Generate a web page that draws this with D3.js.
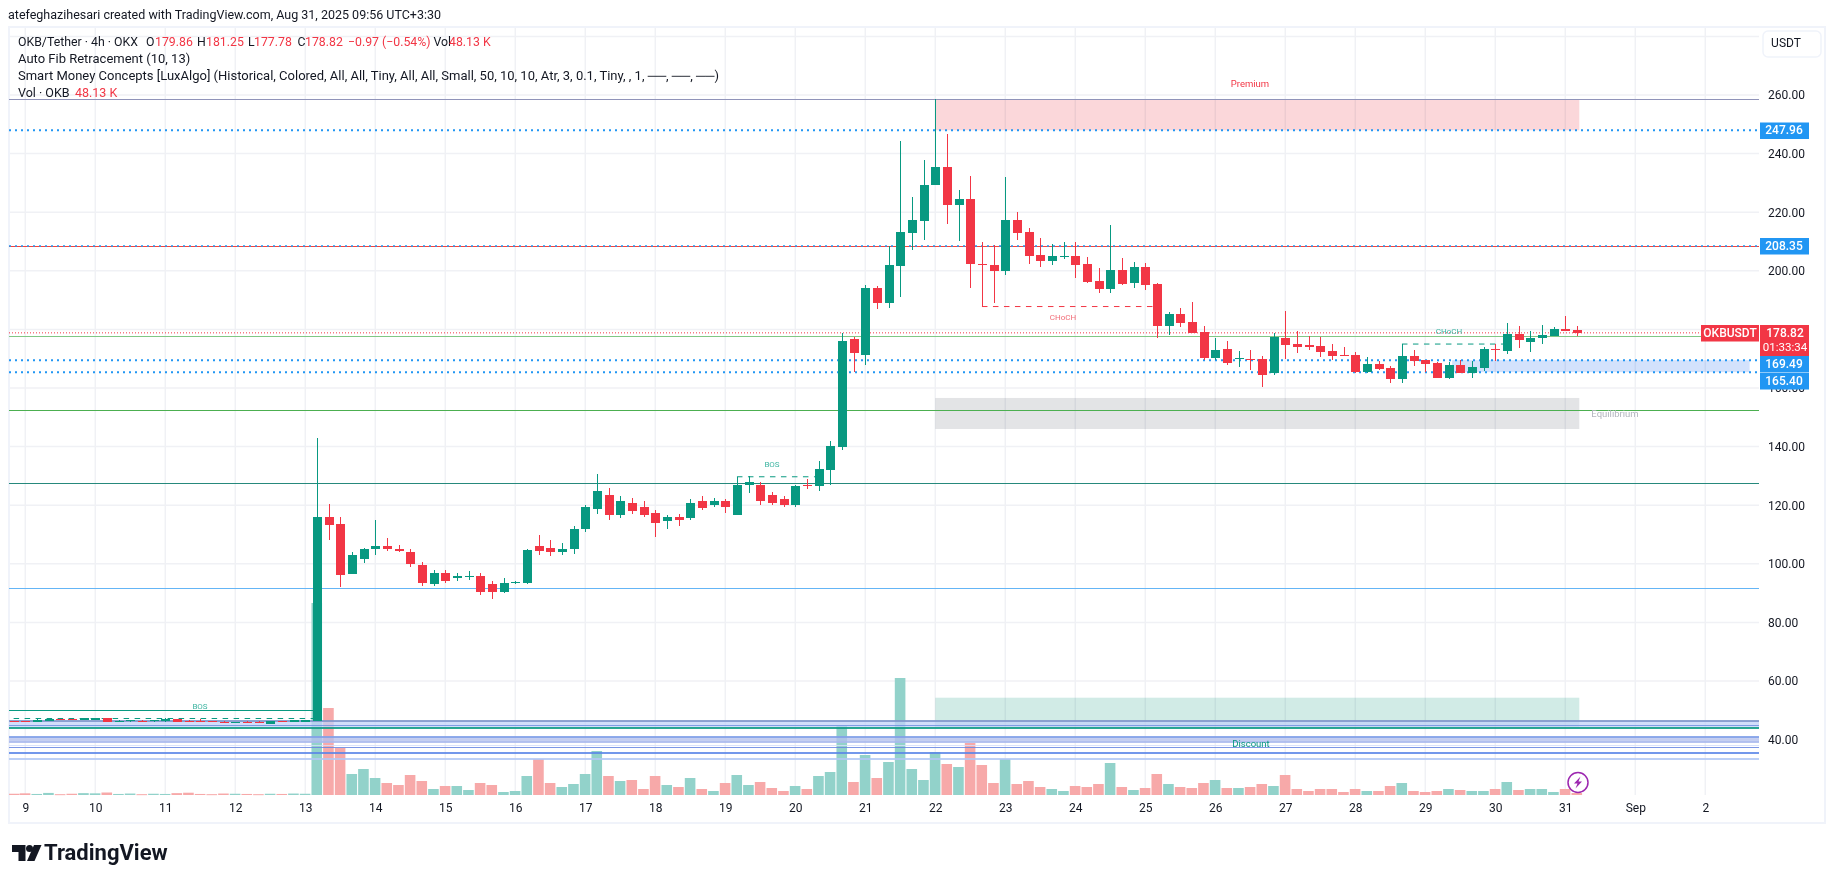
<!DOCTYPE html>
<html>
<head>
<meta charset="utf-8">
<title>OKB/Tether 4h</title>
<script src="https://cdn.jsdelivr.net/npm/d3@7.9.0/dist/d3.min.js"></script>
<style>
  html, body { margin: 0; padding: 0; background: #fff; }
  svg { display: block; }
  text { font-family: Roboto, "Noto Sans", sans-serif; fill: #131722; }
</style>
</head>
<body>
<svg id="chart" width="1835" height="883"></svg>
<script>
// ========== Data ==========

// Bar numbers count 4h candles from Aug 9 00:00, the first visible one is -1
const firstBar = -1;

const opens = [46.5,46.5,46.1,46.2,46.9,46.9,46.8,46.8,47.3,46.2,46.2,46.3,46.2,46.2,47.0,46.3,46.3,46.3,46.1,45.8,46.1,46.1,45.4,46.3,46.1,46.1,
  46.4,116,113.6,96.5,101.5,105,106,105,104,99.5,93,97,95,95.5,96,93,90.5,93.4,93.5,106,105.5,104,105,112,118.7,123.5,116.7,120.7,119.5,117.5,114.5,116,115.5,121.5,120,121.5,116.7,127,127,123.5,122,120,127,126.5,132,140,176.6,171.4,
  194,189,201.6,212.9,217,229.3,235.4,222.5,224.5,202.3,202,200,217.3,213.3,205.4,203.3,204.8,205,202.3,196.5,193.8,200.3,195.8,201.3,195.5,181.2,185.2,182.5,179,170.2,173.3,169.8,170,170,165,177,175,174.7,174.3,172.6,171.2,171.3,
  165.5,168.2,166.8,163,170.9,169.6,168.5,163.4,167.8,165.1,166.8,173.3,172.6,178.4,175.8,177,177.7,180.1,179.86];
const closes = [46.4,46.4,46.8,47.0,46.8,46.8,47.3,47.3,46.1,46.4,46.7,46.2,46.6,47.0,46.1,46.2,46.2,46.2,45.7,46.1,45.8,45.8,46.2,46.2,46.6,46.6,
  116,113.2,96.2,103,105,106,105,104.5,100,93.5,97,94,96,96,90.5,90.5,93.5,93.8,104.7,104.5,104,105,112,119.5,124.7,116.7,121.5,118,116.7,114,116,115,120.7,119,121.5,119.5,127,128,121.5,120.7,120,126.7,126.5,132.3,140.2,176,171.8,194,
  189,202,213.3,217.3,229.3,235.4,222.5,224.5,202.3,202,200,217.3,212.9,205,203.3,205,205.2,202,196.2,193.8,200.3,195.5,201.3,195.2,181.2,185.2,182.2,178.8,170.2,173,168.5,170.2,169.8,164.6,177.4,174.7,174,174,172.3,171,171,165.6,
  168.2,166.5,163,170.9,169.2,168.2,163.4,167.8,165.1,167.2,173.3,173,178.4,176.4,177,178,180,179.5,178.82];
const highs = [46.5,46.5,46.9,47.3,47,47,47.4,47.5,47.4,46.6,46.7,46.7,46.6,47.3,47.1,46.7,47,46.4,46.2,46.1,46.2,46.2,46.2,46.3,46.7,46.7,
  142.9,120.4,116,104,105.5,115,108.8,106.5,105,100.5,98,98,97,97.5,97,94,95,94,105,110,108,107,113,120,130.6,126,123,122.5,121.5,118.5,116.5,117,122,123,122.5,122,129.7,130,128,124.5,123,127,129,135,142,178.7,177.5,195,
  194.8,208.5,244.3,225.2,237.8,258.5,246.7,227.6,232.4,210,208.8,232,220,214.6,211.2,209.1,209.8,209.8,204.7,201,215.6,204.4,203,202.7,195.8,186,187.3,189.4,181,177,176,172.6,173,171,178.8,186.3,179.4,177.7,177.4,175,174,172.3,
  170.6,169.2,167.5,175,173,169.6,169,168.9,169.6,169.2,174,175,182.2,181.2,179.4,181.5,180.8,184.6,181.25];
const lows = [46.3,46.3,46.1,46.2,46.8,46.8,46.8,46.7,46.1,46,46.1,46.2,46.1,46.1,46.1,46.1,46.1,46.1,45.7,45.7,45.8,45.8,45.4,46.1,46,46,
  46.2,108,92,96.5,100.3,103,104.5,104,99,92.5,92.5,93.5,94,94.5,89.5,88,90,93,93,103,102.5,103,103.5,111,117,115,115.5,117,116,109,112,113,115,118.5,119.5,117.5,116.5,124,120,120,119.5,119.5,125.5,125,127,139,165.4,168,
  187,187.3,191,207,210.5,229.3,216,210.2,194,187.7,189,198.6,210.5,202.3,201.3,202,204,197.5,195.8,192.4,192.4,195.2,194,193.4,177,178,180.8,178.8,169.6,169.6,168,167,166,160.5,164.5,170,172,173,170.6,169.6,170.8,165.2,
  165.2,166.2,161.7,161.7,167.5,165.5,163.4,163,165.1,163.4,165.8,169.2,171.6,173.6,172.3,175,177.7,179.5,177.78];
// Volumes in thousands, same order as the candles
const volumes = [30,40,25,50,20,30,45,40,60,25,35,20,30,25,45,55,25,20,35,30,25,20,30,25,35,30,
  4608,2088,1128,504,624,408,288,240,480,336,144,216,216,120,288,240,72,96,456,864,288,192,264,504,1056,456,336,360,144,456,240,192,408,144,96,288,480,240,312,168,96,216,144,456,552,1656,312,960,
  408,792,2808,624,360,1032,744,672,1248,720,288,864,264,336,192,144,96,216,192,264,768,192,120,168,504,264,192,168,288,360,168,168,192,264,216,480,144,96,144,144,72,144,
  96,96,216,288,96,72,96,144,120,96,96,144,312,120,144,144,72,144,48.13];

// 180.00 sits under the last price tag, so it only gets a grid line
const priceTicks = [260,240,220,200,160,140,120,100,80,60,40];
const gridPrices = [280,180].concat(priceTicks);
const dayLabels = ['9','10','11','12','13','14','15','16','17','18','19','20','21','22','23','24','25','26','27','28','29','30','31','Sep','2'];

// Support and resistance levels drawn across the whole chart
const dottedBlueLevels = [247.96, 169.49, 165.40];
const lastPrice = 178.82;
const solidLevels = [
  { price: 258.5, color: '#9093b9', width: 1 },
  { price: 208.2, color: '#f4433c', width: 1 },
  { price: 177.6, color: '#81c784', width: 1 },
  { price: 152.4, color: '#4caf50', width: 1 },
  { price: 127.5, color: '#26897c', width: 1 },
  { price: 91.6, color: '#64b5f6', width: 1 },
  { price: 46.4, color: '#7c93c9', width: 2 },
  { price: 44.8, color: '#7090e0', width: 1 },
  { price: 43.9, color: '#089981', width: 2 },
  { price: 41.0, color: '#7f9fe8', width: 2 },
  { price: 39.3, color: '#a9b8ec', width: 2 },
  { price: 37.9, color: '#d5defa', width: 1 },
  { price: 37.2, color: '#6685e0', width: 1 },
  { price: 35.5, color: '#5b86e8', width: 2 },
  { price: 33.4, color: '#b2c8f5', width: 2 }
];
const fibBands = [[46.4, 43.9], [41.0, 39.3]];

// Zones: bar range and price range
const zones = [
  { name: 'Premium', from: 78, to: 133.2, top: 258.5, bottom: 247.96, fill: '#fbd7da' },
  { name: 'Equilibrium', from: 78, to: 133.2, top: 156.6, bottom: 146, fill: '#e3e4e6' },
  { name: 'Discount', from: 78, to: 133.2, top: 54.3, bottom: 43.9, fill: '#d1ebe6' },
  { name: 'Order block', from: 122.3, to: 147.8, top: 169.49, bottom: 165.40, fill: '#d3e2fc' }
];

// Structure breaks: dashed level between two bars
const structureBreaks = [
  { label: 'BOS', from: -1, to: 25, price: 47.2, color: '#089981', labelColor: '#3fb5a2' },
  { label: 'BOS', from: 61, to: 67.7, price: 129.7, color: '#089981', labelColor: '#3fb5a2' },
  { label: 'CHoCH', from: 82, to: 97, price: 187.8, color: '#f23645', labelColor: '#f26d78' },
  { label: 'CHoCH', from: 118, to: 127, price: 175, color: '#089981', labelColor: '#3fb5a2' }
];

// ========== Layout ==========

const svg = d3.select('#chart');
const plotLeft = 9, plotRight = 1759, plotTop = 27, plotBottom = 795;
const upColor = '#089981', downColor = '#f23645';

const y = d3.scaleLinear().domain([260, 40]).range([95, 739.6]);
const x = d3.scaleLinear().domain([0, 132]).range([25.3, 1565.3]);
const volumeY = d3.scaleLinear().domain([0, 4608]).range([plotBottom, 603]);

const bars = d3.range(opens.length).map((i) => ({
  bar: firstBar + i,
  open: opens[i], high: highs[i], low: lows[i], close: closes[i], volume: volumes[i]
}));

function hLine(parent, price, x1, x2) {
  return parent.append('line')
    .attr('x1', x1).attr('x2', x2)
    .attr('y1', y(price)).attr('y2', y(price));
}

// ========== Grid and frame ==========

const grid = svg.append('g').attr('stroke', '#f0f1f5').attr('stroke-width', 1.5);
gridPrices.forEach((p) => hLine(grid, p, plotLeft, plotRight));
dayLabels.forEach((d, i) => {
  grid.append('line')
    .attr('x1', x(i * 6)).attr('x2', x(i * 6))
    .attr('y1', plotTop).attr('y2', plotBottom);
});

svg.append('rect')
  .attr('x', 9).attr('y', 27).attr('width', 1816).attr('height', 796)
  .attr('fill', 'none').attr('stroke', '#f0f3fa').attr('stroke-width', 2);

// ========== Zones and volume ==========

svg.append('g').selectAll('rect').data(zones).join('rect')
  .attr('x', (d) => x(d.from))
  .attr('width', (d) => x(d.to) - x(d.from))
  .attr('y', (d) => y(d.top))
  .attr('height', (d) => y(d.bottom) - y(d.top))
  .attr('fill', (d) => d.fill)
  .style('mix-blend-mode', 'multiply');

svg.append('g').selectAll('rect').data(bars).join('rect')
  .attr('x', (d) => Math.max(x(d.bar) - 5.5, plotLeft))
  .attr('width', 10.6)
  .attr('y', (d) => volumeY(d.volume))
  .attr('height', (d) => Math.max(plotBottom - volumeY(d.volume), 1))
  .attr('fill', (d) => (d.close >= d.open ? '#92d2ca' : '#f7a9a9'));

// ========== Levels ==========

const bands = svg.append('g').attr('opacity', 0.75);
fibBands.forEach(([top, bottom], i) => {
  bands.append('rect')
    .attr('x', plotLeft).attr('width', plotRight - plotLeft)
    .attr('y', y(top)).attr('height', y(bottom) - y(top))
    .attr('fill', i === 0 ? '#c3d3fa' : '#b4c0ee');
});

const levels = svg.append('g').attr('shape-rendering', 'crispEdges');
solidLevels.forEach((l) => {
  hLine(levels, l.price, plotLeft, plotRight)
    .attr('stroke', l.color)
    .attr('stroke-width', l.width)
    .attr('stroke-opacity', l.price < 50 ? 0.85 : 1);
});

// BOS line above the first volume spike
hLine(levels, 50.1, plotLeft, x(25) - 4).attr('stroke', upColor).attr('stroke-width', 1);

dottedBlueLevels.forEach((p) => {
  hLine(svg, p, plotLeft, plotRight)
    .attr('stroke', '#2196f3').attr('stroke-width', 2)
    .attr('stroke-dasharray', '2 4');
});
hLine(svg, 208.5, plotLeft, plotRight)
  .attr('stroke', '#2196f3').attr('stroke-width', 1.5).attr('stroke-dasharray', '2 4');
hLine(svg, lastPrice, plotLeft, plotRight)
  .attr('stroke', downColor).attr('stroke-width', 1).attr('stroke-dasharray', '1 2');

// ========== Structure breaks ==========

const structure = svg.append('g');
structure.selectAll('line').data(structureBreaks).join('line')
  .attr('x1', (d) => Math.max(x(d.from), 13))
  .attr('x2', (d) => x(d.to))
  .attr('y1', (d) => y(d.price))
  .attr('y2', (d) => y(d.price))
  .attr('stroke', (d) => d.color)
  .attr('stroke-dasharray', '5.5 5.5');

structure.selectAll('text').data(structureBreaks).join('text')
  .text((d) => d.label)
  .attr('x', (d) => [200, 772, 1063, 1449][structureBreaks.indexOf(d)])
  .attr('y', (d) => [707, 464.5, 318, 332][structureBreaks.indexOf(d)])
  .attr('text-anchor', 'middle')
  .attr('dominant-baseline', 'middle')
  .style('font-size', '8px')
  .style('fill', (d) => d.labelColor);

// ========== Candles ==========

const candles = svg.append('g').attr('shape-rendering', 'crispEdges');
const barColor = (d) => (d.close >= d.open ? upColor : downColor);

candles.selectAll('line').data(bars).join('line')
  .attr('x1', (d) => Math.round(x(d.bar)) + 0.5)
  .attr('x2', (d) => Math.round(x(d.bar)) + 0.5)
  .attr('y1', (d) => y(d.high))
  .attr('y2', (d) => y(d.low))
  .attr('stroke', barColor);

candles.selectAll('rect').data(bars).join('rect')
  .attr('x', (d) => Math.max(Math.round(x(d.bar)) - 4, plotLeft))
  .attr('width', 9)
  .attr('y', (d) => y(Math.max(d.open, d.close)))
  .attr('height', (d) => Math.max(Math.abs(y(d.open) - y(d.close)), 1))
  .attr('fill', barColor);

// ========== Zone labels ==========

const zoneLabels = svg.append('g')
  .attr('text-anchor', 'middle')
  .attr('dominant-baseline', 'middle')
  .style('font-size', '9.5px');
zoneLabels.append('text').text('Premium').attr('x', 1250).attr('y', 84).style('fill', '#f23645');
zoneLabels.append('text').text('Equilibrium').attr('x', 1615).attr('y', 414).style('fill', '#b2b5be');
zoneLabels.append('text').text('Discount').attr('x', 1251).attr('y', 744).style('fill', '#089981');

// ========== Axes ==========

const yAxis = d3.axisRight(y)
  .tickValues(priceTicks)
  .tickSize(0)
  .tickPadding(9)
  .tickFormat(d3.format('.2f'));
const yAxisG = svg.append('g').attr('transform', `translate(${plotRight},0)`).call(yAxis);

const xAxis = d3.axisBottom(x)
  .tickValues(dayLabels.map((d, i) => i * 6))
  .tickSize(0)
  .tickPadding(8)
  .tickFormat((d) => dayLabels[d / 6]);
const xAxisG = svg.append('g').attr('transform', `translate(0,${plotBottom})`).call(xAxis);

[yAxisG, xAxisG].forEach((g) => {
  g.select('.domain').remove();
  g.selectAll('text').style('font-size', '12px').style('font-family', 'Roboto, sans-serif').style('fill', '#131722');
});

// USDT button
svg.append('rect')
  .attr('x', 1763).attr('y', 31).attr('width', 58).attr('height', 26).attr('rx', 5)
  .attr('fill', '#fff').attr('stroke', '#f0f3fa').attr('stroke-width', 1.5);
svg.append('text').text('USDT')
  .attr('x', 1786).attr('y', 44)
  .attr('text-anchor', 'middle').attr('dominant-baseline', 'middle')
  .style('font-size', '12px');

// ========== Price tags ==========

function priceTag(value, boxTop, color) {
  svg.append('rect')
    .attr('x', plotRight + 1).attr('y', boxTop).attr('width', 49).attr('height', 16.5).attr('fill', color);
  svg.append('text').text(value.toFixed(2))
    .attr('x', plotRight + 25).attr('y', boxTop + 8.5)
    .attr('text-anchor', 'middle').attr('dominant-baseline', 'middle')
    .style('font-size', '12px').style('font-weight', 500).style('fill', '#fff');
}

priceTag(247.96, 122.5, '#2196f3');
priceTag(208.35, 238, '#2196f3');
priceTag(169.49, 356, '#2196f3');
priceTag(165.40, 373, '#2196f3');

// Last price tag with symbol and countdown
svg.append('rect').attr('x', 1701).attr('y', 325).attr('width', 58).attr('height', 16.5).attr('fill', downColor);
svg.append('rect').attr('x', 1760).attr('y', 325).attr('width', 49).attr('height', 31).attr('fill', downColor);
const lastTag = svg.append('g')
  .attr('text-anchor', 'middle').attr('dominant-baseline', 'middle')
  .style('font-size', '12px');
lastTag.append('text').text('OKBUSDT').attr('x', 1730).attr('y', 333.5).style('fill', '#fff').style('font-weight', 500);
lastTag.append('text').text(lastPrice.toFixed(2)).attr('x', 1785).attr('y', 333.5).style('fill', '#fff').style('font-weight', 500);
lastTag.append('text').text('01:33:34').attr('x', 1785).attr('y', 348).style('font-size', '11.5px').style('fill', '#fff');

// ========== Legend ==========

const legend = svg.append('g').style('font-size', '13px');
svg.append('text').text('atefeghazihesari created with TradingView.com, Aug 31, 2025 09:56 UTC+3:30')
  .attr('x', 8).attr('y', 19).style('font-size', '12.5px');

// Header row pieces sit at their own x so the gaps match
const ohlc = legend.append('text').attr('y', 46).style('font-size', '12.3px');
const ohlcParts = [
  ['OKB/Tether · 4h · OKX', '#131722', 18], ['O', '#131722', 146], ['179.86', downColor, 155],
  ['H', '#131722', 197], ['181.25', downColor, 206], ['L', '#131722', 248], ['177.78', downColor, 254],
  ['C', '#131722', 297.5], ['178.82', downColor, 305], ['−0.97 (−0.54%)', downColor, 348],
  ['Vol', '#131722', 433.5], ['48.13 K', downColor, 449]
];
ohlcParts.forEach(([t, c, px]) => ohlc.append('tspan').text(t).attr('x', px).style('fill', c));

legend.append('text').text('Auto Fib Retracement (10, 13)').attr('x', 18).attr('y', 63);
legend.append('text')
  .text('Smart Money Concepts [LuxAlgo] (Historical, Colored, All, All, Tiny, All, All, Small, 50, 10, 10, Atr, 3, 0.1, Tiny, , 1, ──, ──, ──)')
  .attr('x', 18).attr('y', 80);
const volLine = legend.append('text').attr('y', 97).style('font-size', '12.5px');
volLine.append('tspan').text('Vol · OKB').attr('x', 18);
volLine.append('tspan').text('48.13 K').attr('x', 75).style('fill', downColor);

// ========== Lightning marker and logo ==========

const bolt = svg.append('g').attr('transform', 'translate(1578,782.5)');
bolt.append('circle').attr('r', 10).attr('fill', '#fff').attr('stroke', '#9c27b0').attr('stroke-width', 1.5);
bolt.append('path').attr('d', 'M2.5,-6 L-4,1 L-0.5,1 L-2.5,6 L4,-1 L0.5,-1 Z').attr('fill', '#9c27b0');

svg.append('path')
  .attr('d', 'M12,845 H25.5 V861 H18.5 V852 H12 Z M34,845 H41.5 L34.5,861 H27 Z')
  .attr('fill', '#131722');
svg.append('circle').attr('cx', 29.5).attr('cy', 848.5).attr('r', 3.5).attr('fill', '#131722');
svg.append('text').text('TradingView')
  .attr('x', 44).attr('y', 860)
  .style('font-size', '22px').style('font-weight', 700);
</script>
</body>
</html>
